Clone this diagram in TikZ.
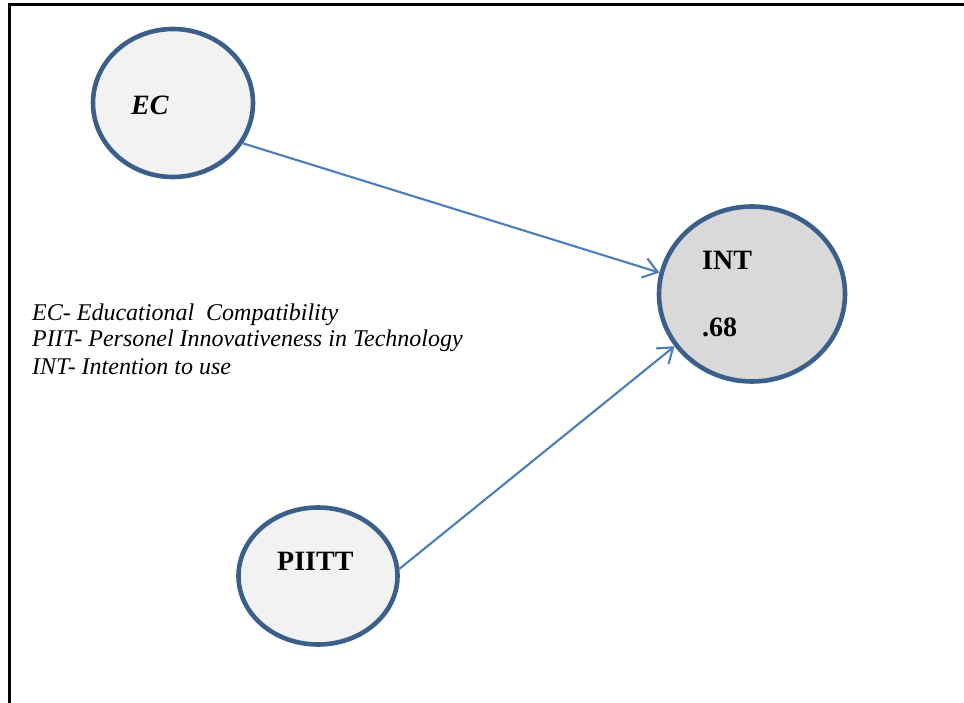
\documentclass[tikz,border=0pt]{standalone}
\usepackage{fontspec}
\setmainfont{Liberation Serif}
\usetikzlibrary{shapes.geometric,arrows.meta}
\definecolor{rim}{HTML}{3A5F8B}
\definecolor{lightfill}{HTML}{F2F2F2}
\definecolor{darkfill}{HTML}{D9D9D9}
\definecolor{linkblue}{HTML}{4A7EBB}
\begin{document}
\begin{tikzpicture}[x=1pt,y=-1pt,
  construct/.style={ellipse, draw=rim, line width=4.6pt, inner sep=0pt},
  lbl/.style={anchor=base west, inner sep=0pt, font=\fontsize{28}{30}\selectfont\bfseries},
  legendtxt/.style={anchor=base west, inner sep=0pt, font=\fontsize{24}{27}\selectfont\itshape},
  effect/.style={draw=linkblue, line width=2.1pt, -{Straight Barb[length=14pt,width=20pt,line width=2.1pt]}}
]
\useasboundingbox[fill=white] (0,0) rectangle (964,703);
% frame
\draw[line width=2.5pt, line cap=rect] (9.5,703) -- (9.5,4.5) -- (964,4.5);

% constructs
\node[construct, fill=lightfill, minimum width=160pt, minimum height=148pt] (ec) at (173,103) {};
\node[construct, fill=darkfill, minimum width=186pt, minimum height=175pt] (int) at (752,294) {};
\node[construct, fill=lightfill, minimum width=159pt, minimum height=137pt] (piit) at (318,576) {};

% labels
\node[lbl, font=\fontsize{28}{30}\selectfont\bfseries\itshape] (eclbl) at (131,115) {EC};
\node[lbl] (intlbl) at (702,270) {INT};
\node[lbl] (r2) at (702,337) {.68};
\node[lbl] (piitlbl) at (277,570) {PIITT};

% paths
\draw[effect] (ec.-30) -- (int.167);
\draw[effect] (piit.5) -- (int.214);

% legend
\node[legendtxt] (l1) at (32,320) {EC- Educational\ \ Compatibility};
\node[legendtxt] (l2) at (32,347) {PIIT- Personel Innovativeness in Technology};
\node[legendtxt] (l3) at (32,374) {INT- Intention to use};
\end{tikzpicture}
\end{document}
